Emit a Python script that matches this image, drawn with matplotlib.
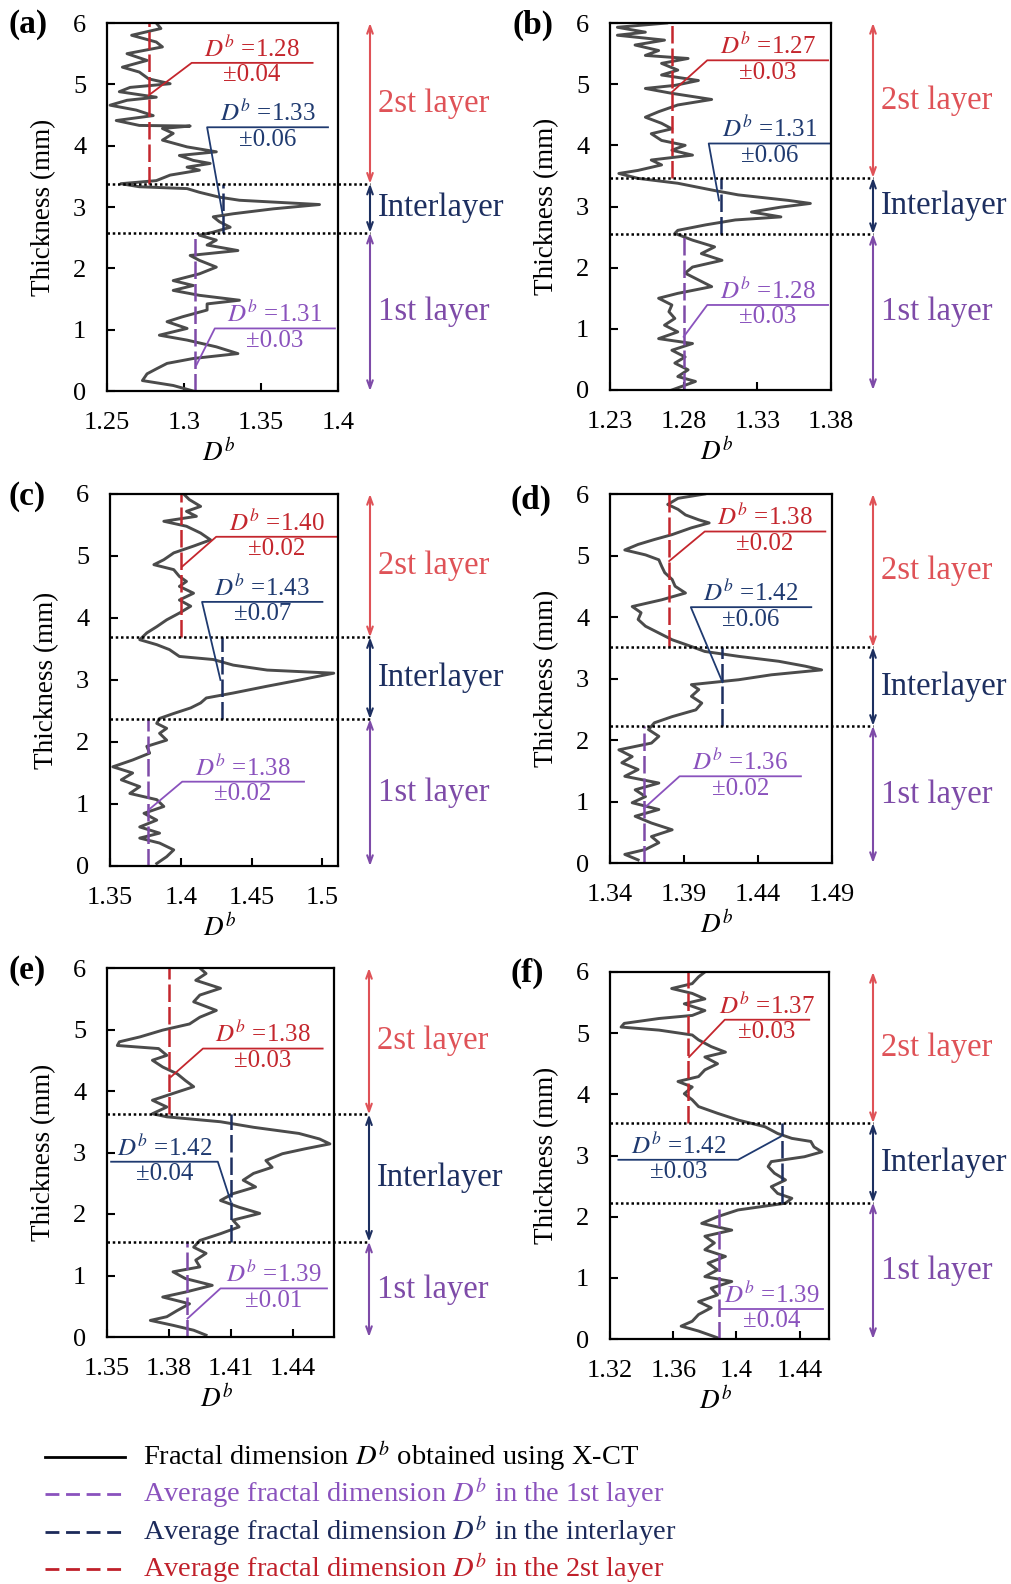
import matplotlib
matplotlib.use('Agg')
import matplotlib.pyplot as plt
import matplotlib.transforms as mtransforms
from matplotlib.lines import Line2D

plt.rcParams['font.family'] = ['Liberation Serif', 'DejaVu Serif']
plt.rcParams['mathtext.fontset'] = 'stix'

W, H, DPI = 1011, 1584, 100

CURVE = '#4b4b4b'
RED = '#c4262d'
RED_SOFT = '#df5257'
NAVY = '#1d2f60'
PURPLE = '#7e4ba8'

# ---- traced profiles: thickness (mm) and fractal dimension D^b ----
t_a = [6.0, 5.91, 5.80, 5.69, 5.61, 5.50, 5.39, 5.28, 5.20, 5.09, 5.01, 4.95, 4.88, 4.79, 4.74,
       4.66, 4.58, 4.49, 4.41, 4.33, 4.32, 4.28, 4.20, 4.09, 3.98, 3.90, 3.84, 3.76, 3.71, 3.65,
       3.60, 3.52, 3.43, 3.38, 3.33, 3.30, 3.24, 3.16, 3.11, 3.04, 2.97, 2.89, 2.84, 2.76, 2.67,
       2.59, 2.54, 2.46, 2.38, 2.29, 2.21, 2.13, 2.02, 1.91, 1.80, 1.72, 1.64, 1.56, 1.48, 1.42,
       1.32, 1.21, 1.13, 1.02, 0.91, 0.83, 0.72, 0.61, 0.53, 0.45, 0.36, 0.28, 0.17, 0.09, 0.0]
d_a = [1.282, 1.285, 1.266, 1.282, 1.286, 1.263, 1.276, 1.260, 1.271, 1.277, 1.291, 1.265, 1.258, 1.282, 1.263,
       1.252, 1.269, 1.280, 1.256, 1.271, 1.304, 1.286, 1.293, 1.286, 1.302, 1.321, 1.297, 1.306, 1.317, 1.302,
       1.310, 1.291, 1.282, 1.259, 1.271, 1.302, 1.310, 1.323, 1.336, 1.388, 1.358, 1.332, 1.319, 1.323, 1.330,
       1.319, 1.310, 1.321, 1.315, 1.335, 1.304, 1.310, 1.321, 1.310, 1.293, 1.306, 1.293, 1.310, 1.336, 1.315,
       1.315, 1.299, 1.289, 1.302, 1.284, 1.302, 1.321, 1.335, 1.306, 1.289, 1.282, 1.276, 1.273, 1.293, 1.306]

t_b = [6.0, 5.93, 5.85, 5.80, 5.72, 5.64, 5.55, 5.47, 5.42, 5.34, 5.23, 5.15, 5.06, 4.98, 4.93,
       4.85, 4.75, 4.66, 4.55, 4.46, 4.36, 4.27, 4.19, 4.08, 4.00, 3.92, 3.84, 3.76, 3.68, 3.59,
       3.54, 3.46, 3.38, 3.27, 3.19, 3.10, 3.05, 2.99, 2.91, 2.83, 2.78, 2.70, 2.61, 2.56, 2.45,
       2.34, 2.23, 2.12, 2.01, 1.91, 1.80, 1.69, 1.58, 1.50, 1.39, 1.28, 1.17, 1.06, 0.95, 0.84,
       0.76, 0.65, 0.54, 0.44, 0.33, 0.22, 0.14, 0.0]
d_b = [1.2685, 1.235, 1.254, 1.235, 1.267, 1.247, 1.263, 1.254, 1.283, 1.265, 1.276, 1.265, 1.290, 1.274, 1.254,
       1.272, 1.299, 1.276, 1.263, 1.254, 1.265, 1.272, 1.258, 1.265, 1.281, 1.272, 1.286, 1.258, 1.265, 1.249,
       1.236, 1.249, 1.276, 1.299, 1.317, 1.351, 1.366, 1.346, 1.326, 1.346, 1.315, 1.295, 1.276, 1.274, 1.286,
       1.301, 1.292, 1.306, 1.286, 1.281, 1.290, 1.299, 1.276, 1.263, 1.272, 1.270, 1.274, 1.267, 1.276, 1.263,
       1.286, 1.272, 1.281, 1.274, 1.283, 1.276, 1.288, 1.272]

t_c = [6.0, 5.91, 5.80, 5.72, 5.64, 5.56, 5.48, 5.37, 5.26, 5.16, 5.05, 4.94, 4.86, 4.78, 4.67,
       4.59, 4.51, 4.40, 4.29, 4.19, 4.08, 3.97, 3.86, 3.76, 3.65, 3.57, 3.49, 3.38, 3.33, 3.24,
       3.16, 3.11, 3.00, 2.90, 2.79, 2.71, 2.63, 2.55, 2.46, 2.38, 2.30, 2.22, 2.14, 2.03, 1.93,
       1.82, 1.71, 1.60, 1.50, 1.39, 1.28, 1.17, 1.07, 0.96, 0.85, 0.74, 0.63, 0.53, 0.45, 0.37,
       0.26, 0.15, 0.04]
d_c = [1.402, 1.406, 1.414, 1.404, 1.411, 1.388, 1.404, 1.414, 1.421, 1.409, 1.395, 1.388, 1.381, 1.395, 1.399,
       1.404, 1.399, 1.409, 1.399, 1.407, 1.399, 1.390, 1.383, 1.376, 1.371, 1.383, 1.392, 1.399, 1.423, 1.437,
       1.461, 1.508, 1.484, 1.461, 1.437, 1.418, 1.414, 1.407, 1.395, 1.385, 1.383, 1.390, 1.385, 1.390, 1.376,
       1.378, 1.366, 1.352, 1.366, 1.358, 1.371, 1.364, 1.383, 1.388, 1.374, 1.383, 1.371, 1.385, 1.371, 1.385,
       1.395, 1.390, 1.383]

t_d = [6.0, 5.93, 5.83, 5.75, 5.66, 5.58, 5.53, 5.45, 5.34, 5.26, 5.18, 5.09, 5.01, 4.93, 4.82,
       4.72, 4.61, 4.50, 4.39, 4.28, 4.17, 4.07, 3.96, 3.85, 3.74, 3.63, 3.52, 3.44, 3.36, 3.28,
       3.20, 3.14, 3.06, 2.98, 2.90, 2.82, 2.71, 2.60, 2.49, 2.38, 2.28, 2.17, 2.06, 1.95, 1.84,
       1.73, 1.63, 1.52, 1.41, 1.30, 1.19, 1.08, 0.98, 0.87, 0.76, 0.65, 0.54, 0.43, 0.33, 0.22,
       0.14, 0.05]
d_d = [1.404, 1.386, 1.379, 1.386, 1.391, 1.400, 1.407, 1.395, 1.382, 1.370, 1.359, 1.350, 1.364, 1.373, 1.375,
       1.377, 1.382, 1.384, 1.391, 1.375, 1.355, 1.361, 1.359, 1.364, 1.373, 1.382, 1.395, 1.404, 1.427, 1.454,
       1.472, 1.483, 1.449, 1.427, 1.395, 1.400, 1.395, 1.402, 1.398, 1.382, 1.370, 1.366, 1.373, 1.368, 1.346,
       1.355, 1.348, 1.359, 1.350, 1.373, 1.357, 1.364, 1.355, 1.373, 1.357, 1.368, 1.382, 1.368, 1.373, 1.364,
       1.350, 1.359]

t_e = [6.0, 5.91, 5.80, 5.67, 5.56, 5.45, 5.31, 5.20, 5.09, 4.99, 4.88, 4.80, 4.74, 4.69, 4.58,
       4.50, 4.39, 4.28, 4.17, 4.07, 3.96, 3.85, 3.74, 3.63, 3.58, 3.50, 3.41, 3.31, 3.22, 3.14,
       3.06, 2.98, 2.87, 2.76, 2.66, 2.55, 2.44, 2.33, 2.22, 2.11, 2.01, 1.90, 1.79, 1.68, 1.57,
       1.46, 1.36, 1.25, 1.14, 1.06, 0.95, 0.84, 0.73, 0.65, 0.54, 0.43, 0.33, 0.27, 0.19, 0.11,
       0.03]
d_e = [1.395, 1.398, 1.393, 1.405, 1.395, 1.392, 1.403, 1.395, 1.390, 1.377, 1.366, 1.356, 1.355, 1.375, 1.379,
       1.372, 1.377, 1.384, 1.388, 1.392, 1.382, 1.372, 1.379, 1.372, 1.379, 1.405, 1.421, 1.443, 1.453, 1.458,
       1.446, 1.435, 1.427, 1.430, 1.421, 1.416, 1.422, 1.411, 1.405, 1.414, 1.424, 1.411, 1.414, 1.405, 1.395,
       1.392, 1.398, 1.393, 1.395, 1.382, 1.388, 1.401, 1.388, 1.377, 1.390, 1.384, 1.379, 1.371, 1.382, 1.392,
       1.398]

t_f = [6.0, 5.92, 5.81, 5.73, 5.65, 5.56, 5.48, 5.37, 5.29, 5.24, 5.16, 5.10, 5.05, 4.97, 4.89,
       4.78, 4.69, 4.61, 4.50, 4.40, 4.29, 4.21, 4.12, 4.01, 3.91, 3.80, 3.69, 3.58, 3.47, 3.36,
       3.28, 3.23, 3.14, 3.06, 2.98, 2.90, 2.82, 2.71, 2.60, 2.49, 2.38, 2.30, 2.22, 2.11, 2.00,
       1.89, 1.78, 1.68, 1.57, 1.46, 1.35, 1.24, 1.13, 1.02, 0.94, 0.83, 0.72, 0.61, 0.51, 0.40,
       0.29, 0.21, 0.13, 0.02]
d_f = [1.380, 1.376, 1.372, 1.359, 1.372, 1.380, 1.367, 1.380, 1.372, 1.351, 1.329, 1.327, 1.351, 1.372, 1.376,
       1.384, 1.393, 1.380, 1.388, 1.380, 1.376, 1.363, 1.372, 1.367, 1.372, 1.376, 1.388, 1.401, 1.418, 1.426,
       1.435, 1.447, 1.449, 1.454, 1.443, 1.422, 1.420, 1.424, 1.431, 1.422, 1.426, 1.435, 1.431, 1.401, 1.388,
       1.378, 1.397, 1.380, 1.386, 1.380, 1.393, 1.382, 1.388, 1.380, 1.397, 1.384, 1.388, 1.376, 1.384, 1.376,
       1.372, 1.365, 1.376, 1.388]

# layer boundaries (lower, upper) in mm
bounds_a = (2.58, 3.38)
bounds_b = (2.55, 3.47)
bounds_c = (2.37, 3.69)
bounds_d = (2.23, 3.51)
bounds_e = (1.55, 3.62)
bounds_f = (2.23, 3.53)

# average D^b per layer: 1st layer, interlayer, 2nd layer
means_a = (1.307, 1.325, 1.277)
means_b = (1.280, 1.305, 1.272)
means_c = (1.377, 1.429, 1.400)
means_d = (1.363, 1.416, 1.380)
means_e = (1.389, 1.410, 1.380)
means_f = (1.389, 1.4286, 1.3695)

# annotated values (value, error) per layer
labels_a = [('1.31', '0.03'), ('1.33', '0.06'), ('1.28', '0.04')]
labels_b = [('1.28', '0.03'), ('1.31', '0.06'), ('1.27', '0.03')]
labels_c = [('1.38', '0.02'), ('1.43', '0.07'), ('1.40', '0.02')]
labels_d = [('1.36', '0.02'), ('1.42', '0.06'), ('1.38', '0.02')]
labels_e = [('1.39', '0.01'), ('1.42', '0.04'), ('1.38', '0.03')]
labels_f = [('1.39', '0.04'), ('1.42', '0.03'), ('1.37', '0.03')]

xticks_a = [1.25, 1.30, 1.35, 1.40]
xticks_b = [1.23, 1.28, 1.33, 1.38]
xticks_c = [1.35, 1.40, 1.45, 1.50]
xticks_d = [1.34, 1.39, 1.44, 1.49]
xticks_e = [1.35, 1.38, 1.41, 1.44]
xticks_f = [1.32, 1.36, 1.40, 1.44]
xticklabels_a = ['1.25', '1.3', '1.35', '1.4']
xticklabels_b = ['1.23', '1.28', '1.33', '1.38']
xticklabels_c = ['1.35', '1.4', '1.45', '1.5']
xticklabels_d = ['1.34', '1.39', '1.44', '1.49']
xticklabels_e = ['1.35', '1.38', '1.41', '1.44']
xticklabels_f = ['1.32', '1.36', '1.4', '1.44']

legend_labels = ['Fractal dimension $D^b$ obtained using X-CT',
                 'Average fractal dimension $D^b$ in the 1st layer',
                 'Average fractal dimension $D^b$ in the interlayer',
                 'Average fractal dimension $D^b$ in the 2st layer']

# ---- layout (pixel boxes, leader lines: anchor D, anchor t, kink D, kink t, end D) ----
panels = [
    dict(tag='(a)', tag_xy=(9, 25), t=t_a, d=d_a, bounds=bounds_a, means=means_a, labels=labels_a,
         ticks=xticks_a, ticklabels=xticklabels_a, xlim=(1.25, 1.40), box=(107, 23, 338, 391), arrow_x=370,
         leaders=[(1.308, 0.42, 1.320, 1.02, 1.398), (1.325, 2.89, 1.315, 4.30, 1.3935),
                  (1.277, 4.82, 1.305, 5.35, 1.3835)]),
    dict(tag='(b)', tag_xy=(512, 25), t=t_b, d=d_b, bounds=bounds_b, means=means_b, labels=labels_b,
         ticks=xticks_b, ticklabels=xticklabels_b, xlim=(1.23, 1.38), box=(610, 23, 831, 390), arrow_x=873,
         leaders=[(1.280, 0.87, 1.296, 1.39, 1.378), (1.304, 3.10, 1.297, 4.03, 1.380),
                  (1.272, 4.87, 1.296, 5.39, 1.378)]),
    dict(tag='(c)', tag_xy=(9, 497), t=t_c, d=d_c, bounds=bounds_c, means=means_c, labels=labels_c,
         ticks=xticks_c, ticklabels=xticklabels_c, xlim=(1.35, 1.511), box=(110, 494, 338, 866), arrow_x=370,
         leaders=[(1.377, 0.90, 1.401, 1.36, 1.487), (1.428, 3.00, 1.415, 4.26, 1.500),
                  (1.401, 4.83, 1.425, 5.31, 1.511)]),
    dict(tag='(d)', tag_xy=(511, 500), t=t_d, d=d_d, bounds=bounds_d, means=means_d, labels=labels_d,
         ticks=xticks_d, ticklabels=xticklabels_d, xlim=(1.34, 1.49), box=(610, 494, 832, 863), arrow_x=873,
         leaders=[(1.363, 0.89, 1.387, 1.41, 1.469), (1.416, 2.94, 1.3946, 4.16, 1.476),
                  (1.380, 4.91, 1.404, 5.39, 1.4855)]),
    dict(tag='(e)', tag_xy=(9, 970), t=t_e, d=d_e, bounds=bounds_e, means=means_e, labels=labels_e,
         ticks=xticks_e, ticklabels=xticklabels_e, xlim=(1.35, 1.46), box=(107, 968, 334, 1337), arrow_x=369,
         leaders=[(1.389, 0.30, 1.405, 0.79, 1.4566), (1.410, 2.20, 1.4037, 2.85, 1.352),
                  (1.381, 4.23, 1.3965, 4.69, 1.4545)]),
    dict(tag='(f)', tag_xy=(511, 973), t=t_f, d=d_f, bounds=bounds_f, means=means_f, labels=labels_f,
         ticks=xticks_f, ticklabels=xticklabels_f, xlim=(1.32, 1.4585), box=(610, 972, 829, 1339), arrow_x=873,
         leaders=[(1.3895, 0.49, 1.3895, 0.49, 1.4547), (1.428, 3.31, 1.401, 2.93, 1.3253),
                  (1.370, 4.61, 1.3926, 5.22, 1.446)]),
]

fig = plt.figure(figsize=(W / DPI, H / DPI), dpi=DPI)
fig.patch.set_facecolor('white')

text_colors = ['#8a52bd', '#1f3a70', RED]
DASH = (7, 2)

for p in panels:
    l, top, r, b = p['box']
    ax = fig.add_axes([l / W, 1 - b / H, (r - l) / W, (b - top) / H])
    ax.plot(p['d'], p['t'], color=CURVE, lw=2.1, solid_joinstyle='round')
    ax.set_xlim(*p['xlim'])
    ax.set_ylim(0, 6)
    ax.set_xticks(p['ticks'])
    ax.set_xticklabels(p['ticklabels'])
    ax.set_yticks(range(7))
    ax.tick_params(direction='in', length=6, width=1.5, labelsize=19)
    ax.tick_params(axis='x', pad=15)
    ax.tick_params(axis='y', pad=15)
    for s in ax.spines.values():
        s.set_linewidth(1.6)

    lo, hi = p['bounds']
    m1, mi, m2 = p['means']
    ax.plot([m1, m1], [0, lo], color=PURPLE, lw=1.8, dashes=DASH)
    ax.plot([mi, mi], [lo, hi], color=NAVY, lw=1.8, dashes=DASH)
    ax.plot([m2, m2], [hi, 6], color=RED, lw=1.8, dashes=DASH)

    trans = mtransforms.blended_transform_factory(ax.transAxes, ax.transData)
    afrac = (p['arrow_x'] - l) / (r - l)
    for y in (lo, hi):
        ax.plot([0, afrac], [y, y], transform=trans, color='k', ls=(0, (1, 1.1)), lw=1.8, clip_on=False)

    spans = [(hi, 6, RED_SOFT, '2st layer'), (lo, hi, NAVY, 'Interlayer'), (0, lo, PURPLE, '1st layer')]
    for y0, y1, c, name in spans:
        ax.annotate('', xy=(afrac, y0), xytext=(afrac, y1), xycoords=trans, textcoords=trans,
                    arrowprops=dict(arrowstyle='<->,head_length=0.55,head_width=0.2', color=c, lw=1.5,
                                    shrinkA=0, shrinkB=0))
        ax.text(afrac + 8 / (r - l), (y0 + y1) / 2, name, transform=trans, color=c, fontsize=23.5,
                ha='left', va='center')

    for (ad, at, kd, kt, ed), (val, err), c in zip(p['leaders'], p['labels'], text_colors):
        ax.plot([ad, kd, ed], [at, kt, kt], color=c, lw=1.3, clip_on=False)
        xm = (kd + ed) / 2
        ax.annotate('$D^b$ =' + val, xy=(xm, kt), xytext=(0, 4.5), textcoords='offset points',
                    ha='center', va='baseline', color=c, fontsize=18)
        ax.annotate('±' + err, xy=(xm, kt), xytext=(0, -1), textcoords='offset points',
                    ha='center', va='top', color=c, fontsize=18)

    ax.text(-63 / (r - l), 0.5, 'Thickness (mm)', transform=ax.transAxes, rotation=90,
            ha='center', va='center', fontsize=19.5)
    ax.text(0.5 - 4 / (r - l), -63 / (b - top), '$D^b$', transform=ax.transAxes,
            ha='center', va='center', fontsize=19.5)
    fig.text(p['tag_xy'][0] / W, 1 - p['tag_xy'][1] / H, p['tag'], fontsize=24, fontweight='bold',
             ha='left', va='center')

# legend at the bottom
legend_rows = [1457, 1494, 1532, 1569]
legend_colors = ['black', '#8a52bd', '#1c2a5a', '#c0202a']
for i, (yy, txt, c) in enumerate(zip(legend_rows, legend_labels, legend_colors)):
    yf = 1 - yy / H
    line = Line2D([45 / W, 125 / W], [yf, yf], transform=fig.transFigure, color=c, lw=2.0)
    if i:
        line.set_dashes((5, 2.4))
    fig.add_artist(line)
    fig.text(143 / W, yf, txt, color=c, fontsize=20.5, ha='left', va='center')

fig.savefig('out.png', dpi=DPI)
